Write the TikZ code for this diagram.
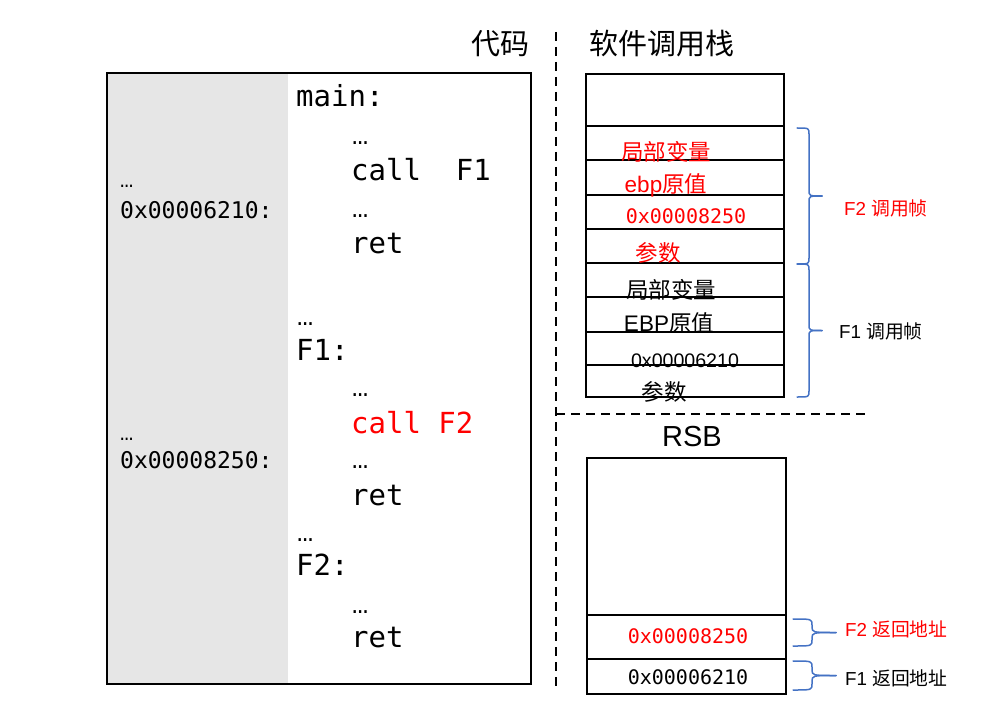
\documentclass[tikz,border=0pt]{standalone}
\usepackage{fontspec}
\setmainfont{Liberation Sans}
\newfontfamily\cjk{Noto Sans CJK SC}
\newfontfamily\monof{DejaVu Sans Mono}
\newfontfamily\dotsf{Liberation Mono}
\definecolor{bracecol}{HTML}{4472C4}
\definecolor{redtxt}{HTML}{FF0000}
\definecolor{graycol}{HTML}{E6E6E6}
\newcommand\myCodeFont{\monof\fontsize{29}{30}\selectfont}
\newcommand\myAddrFont{\monof\fontsize{23}{24}\selectfont}
\newcommand\myCellMono{\monof\fontsize{20}{21}\selectfont}
\newcommand\myCellFont{\fontsize{22.5}{23}\selectfont}
\newcommand\myTitleFont{\cjk\fontsize{29}{30}\selectfont}
\newcommand\myNoteFont{\fontsize{18.8}{19}\selectfont}
\newcommand\mybrace[5]{%
  \draw[bracestyle] (#1,#2) .. controls (#4,#2) .. (#4,#2+6) -- (#4,{(#2+#3)/2-6}) .. controls (#4,{(#2+#3)/2}) .. (#5,{(#2+#3)/2});
  \draw[bracestyle] (#5,{(#2+#3)/2}) .. controls (#4,{(#2+#3)/2}) .. (#4,{(#2+#3)/2+6}) -- (#4,#3-6) .. controls (#4,#3) .. (#1,#3);
}
\begin{document}
\begin{tikzpicture}[x=1pt,y=-1pt,
  code/.style={font=\myCodeFont, inner sep=0pt, anchor=base west},
  codedots/.style={font=\dotsf\fontsize{27}{28}\selectfont, inner sep=0pt, anchor=base west},
  addr/.style={font=\myAddrFont, inner sep=0pt, anchor=base west},
  addrdots/.style={font=\dotsf\fontsize{22}{23}\selectfont, inner sep=0pt, anchor=base west},
  cellm/.style={font=\myCellMono, inner sep=0pt},
  cell/.style={font=\myCellFont, inner sep=0pt},
  title/.style={font=\myTitleFont, inner sep=0pt},
  note/.style={font=\myNoteFont, inner sep=0pt, anchor=west},
  boxline/.style={draw=black, line width=1.4pt},
  rowline/.style={draw=black, line width=1.1pt},
  sep/.style={draw=black, line width=1.3pt, dash pattern=on 9pt off 6pt},
  bracestyle/.style={draw=bracecol, line width=1.5pt, line cap=round, line join=round}]
\useasboundingbox (0,0) rectangle (995,722);

% titles
\node[title] (tcode) at (500,44) {代码};
\node[title] (tstack) at (662,44) {软件调用栈};

% separators
\coordinate (vtop) at (556,32);
\coordinate (vbot) at (556,690);
\coordinate (hl) at (556,414);
\coordinate (hr) at (865,414);
\draw[sep] (vtop) -- (vbot);
\draw[sep] (hl) -- (hr);

% code box
\fill[graycol] (107,73) rectangle (288,684);
\draw[boxline] (107,73) rectangle (531,684);

\node[code] (c1) at (296,107) {main:};
\node[codedots] (c2) at (352,145) {…};
\node[code] (c3) at (351,181) {call\ \ F1};
\node[codedots] (c4) at (352,217) {…};
\node[code] (c5) at (351,253) {ret};
\node[codedots] (c6) at (297,325) {…};
\node[code] (c7) at (296,360) {F1:};
\node[codedots] (c8) at (352,396) {…};
\node[code, text=redtxt] (c9) at (351,433) {call F2};
\node[codedots] (c10) at (352,468) {…};
\node[code] (c11) at (351,505) {ret};
\node[codedots] (c12) at (297,541) {…};
\node[code] (c13) at (296,575) {F2:};
\node[codedots] (c14) at (352,613) {…};
\node[code] (c15) at (351,647) {ret};

\node[addrdots] (a1) at (120,187) {…};
\node[addr] (a2) at (120,218) {0x00006210:};
\node[addrdots] (a3) at (120,440) {…};
\node[addr] (a4) at (120,468) {0x00008250:};

% software stack
\draw[boxline] (586,74) rectangle (784,397);
\foreach \yy in {126,160,195,229,263,297,332,365}
  \draw[rowline] (587,\yy) -- (784,\yy);

\node[cell, text=redtxt] (s1) at (666,152) {\cjk 局部变量};
\node[cell, text=redtxt] (s2) at (666,185) {ebp{\cjk 原值}};
\node[cellm, text=redtxt] (s3) at (686,216) {0x00008250};
\node[cell, text=redtxt] (s4) at (658,253) {\cjk 参数};
\node[cell] (s5) at (671,290) {\cjk 局部变量};
\node[cell] (s6) at (669,323) {EBP{\cjk 原值}};
\node[cell, font=\fontsize{19.6}{20}\selectfont] (s7) at (685,361) {0x00006210};
\node[cell] (s8) at (664,392) {\cjk 参数};

\mybrace{797}{128}{264}{809}{822}
\mybrace{797}{264}{397}{809}{822}
\node[note, text=redtxt] (f2frame) at (844,208) {F2 {\cjk 调用帧}};
\node[note] (f1frame) at (839,331) {F1 {\cjk 调用帧}};

% RSB
\node[inner sep=0pt, font=\fontsize{29}{30}\selectfont] (rsbt) at (692,437) {RSB};
\draw[boxline] (587,458) rectangle (786,694);
\draw[rowline] (587,615) -- (786,615);
\draw[rowline] (587,659) -- (786,659);
\node[cellm, text=redtxt] (r1) at (688,636) {0x00008250};
\node[cellm] (r2) at (688,677) {0x00006210};

\mybrace{793}{619}{646}{812}{836}
\mybrace{793}{661}{690}{812}{836}
\node[note, text=redtxt] (f2ret) at (845,629) {F2 {\cjk 返回地址}};
\node[note] (f1ret) at (845,678) {F1 {\cjk 返回地址}};
\end{tikzpicture}
\end{document}
